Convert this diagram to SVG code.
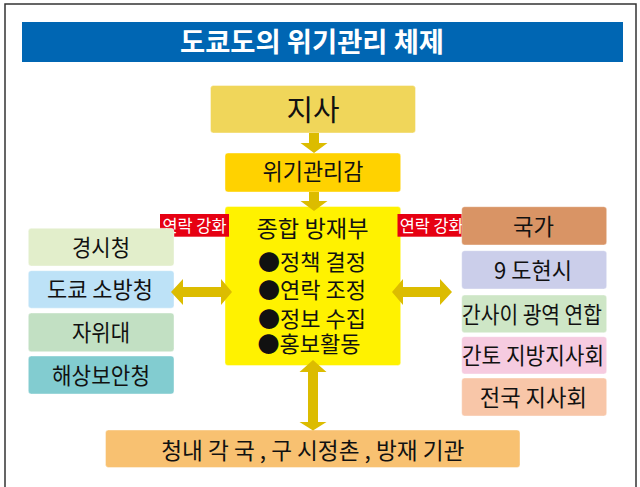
<svg xmlns="http://www.w3.org/2000/svg" width="640" height="487" viewBox="0 0 640 487">
<style>
text{font-family:"Noto Sans CJK KR","Noto Sans",sans-serif;fill:#111;text-anchor:middle;}
.t{font-size:23px;}
.b{font-size:22px;}
.lbl{font-size:17px;fill:#fff;}
.title{font-size:27px;font-weight:bold;fill:#fff;}
.box{stroke:#fff;stroke-opacity:0.4;stroke-width:1;}
.arrow{fill:#DCBC00;}
</style>
<rect x="0" y="0" width="640" height="487" fill="#fff"/>
<rect x="5" y="4" width="631" height="500" fill="none" stroke="#333" stroke-width="1.5"/>
<g id="title">
<rect x="22" y="22" width="601" height="40" fill="#0066B3"/>
<text class="title" x="312" y="51.5" textLength="264" lengthAdjust="spacingAndGlyphs">도쿄도의 위기관리 체제</text>
</g>
<g id="n-jisa">
<rect class="box" x="210.5" y="85.5" width="205" height="47.5" rx="3" fill="#F0D65A"/>
<text x="313" y="120.5" style="font-size:29px" textLength="53" lengthAdjust="spacingAndGlyphs">지사</text>
</g>
<g id="n-wigi">
<rect class="box" x="225" y="153" width="175.7" height="39" rx="3" fill="#FFD200"/>
<text class="t" x="313" y="180.2" textLength="101" lengthAdjust="spacingAndGlyphs">위기관리감</text>
</g>
<g id="n-main">
<rect class="box" x="225" y="206.5" width="175.7" height="159" rx="3" fill="#FFF200"/>
<text class="t" x="312.5" y="236.7" textLength="112" lengthAdjust="spacingAndGlyphs">종합 방재부</text>
<text class="b"><tspan x="312" y="270.3">●정책 결정</tspan><tspan x="312" y="298.3">●연락 조정</tspan><tspan x="312" y="326.8">●정보 수집</tspan><tspan x="309" y="351.8">●홍보활동</tspan></text>
</g>
<g id="lbl-left">
<rect x="160" y="214" width="69" height="22.7" fill="#E60012"/>
<text class="lbl" x="194.5" y="231.6" textLength="64" lengthAdjust="spacingAndGlyphs">연락 강화</text>
</g>
<g id="lbl-right">
<rect x="397.5" y="214" width="68.5" height="22.7" fill="#E60012"/>
<text class="lbl" x="431.7" y="231.6" textLength="64" lengthAdjust="spacingAndGlyphs">연락 강화</text>
</g>
<g id="n-police">
<rect class="box" x="28.3" y="228.3" width="145.7" height="37.7" rx="3" fill="#E2EECB"/>
<text class="t" x="101" y="255.7" textLength="58" lengthAdjust="spacingAndGlyphs">경시청</text>
</g>
<g id="n-fire">
<rect class="box" x="28.3" y="270.7" width="145.7" height="37.5" rx="3" fill="#BDE2F7"/>
<text class="t" x="100" y="298.2" textLength="106" lengthAdjust="spacingAndGlyphs">도쿄 소방청</text>
</g>
<g id="n-sdf">
<rect class="box" x="28.3" y="313" width="145.7" height="38.7" rx="3" fill="#C2E0C3"/>
<text class="t" x="101" y="341" textLength="58" lengthAdjust="spacingAndGlyphs">자위대</text>
</g>
<g id="n-coast">
<rect class="box" x="28.3" y="356" width="145.7" height="38" rx="3" fill="#82CCD0"/>
<text class="t" x="101" y="383.7" textLength="98" lengthAdjust="spacingAndGlyphs">해상보안청</text>
</g>
<g id="n-nation">
<rect class="box" x="461.7" y="206.7" width="145" height="38.3" rx="3" fill="#D99465"/>
<text class="t" x="533.5" y="234.6" textLength="41" lengthAdjust="spacingAndGlyphs">국가</text>
</g>
<g id="n-9pref">
<rect class="box" x="461.7" y="250.7" width="145" height="38.3" rx="3" fill="#CBCEEA"/>
<text class="t" x="533" y="278.6" textLength="78" lengthAdjust="spacingAndGlyphs">9 도현시</text>
</g>
<g id="n-kansai">
<rect class="box" x="461.7" y="295" width="145" height="37.7" rx="3" fill="#CEE6C6"/>
<text class="t" x="532" y="322.5" textLength="140" lengthAdjust="spacingAndGlyphs">간사이 광역 연합</text>
</g>
<g id="n-kanto">
<rect class="box" x="461.7" y="336.7" width="145" height="37.3" rx="3" fill="#F6CBE0"/>
<text class="t" x="533" y="364" textLength="142" lengthAdjust="spacingAndGlyphs">간토 지방지사회</text>
</g>
<g id="n-governors">
<rect class="box" x="461.7" y="378" width="145" height="38" rx="3" fill="#F8C6A8"/>
<text class="t" x="533.3" y="405.7" textLength="107" lengthAdjust="spacingAndGlyphs">전국 지사회</text>
</g>
<g id="n-bottom">
<rect class="box" x="105.5" y="430" width="414.5" height="37.5" rx="3" fill="#F8C171"/>
<text class="t" x="312.8" y="458.7" textLength="303" lengthAdjust="spacingAndGlyphs">청내 각 국 , 구 시정촌 , 방재 기관</text>
</g>
<g id="connectors">
<path class="arrow" d="M309,133 H319 V143 H327.5 L314,153 L300.5,143 H309 Z"/>
<path class="arrow" d="M309,192 H319 V201 H327.5 L314,211 L300.5,201 H309 Z"/>
<path class="arrow" d="M171,292 L183,279 V287 H221 V279 L232,292 L221,305 V297 H183 V305 Z"/>
<path class="arrow" d="M392,292 L403,279 V287 H440 V279 L452,292 L440,305 V297 H403 V305 Z"/>
<path class="arrow" d="M313,360 L326.5,372 H318 V422 H326.5 L313,430.5 L299.5,422 H308 V372 H299.5 Z"/>
</g>
</svg>
